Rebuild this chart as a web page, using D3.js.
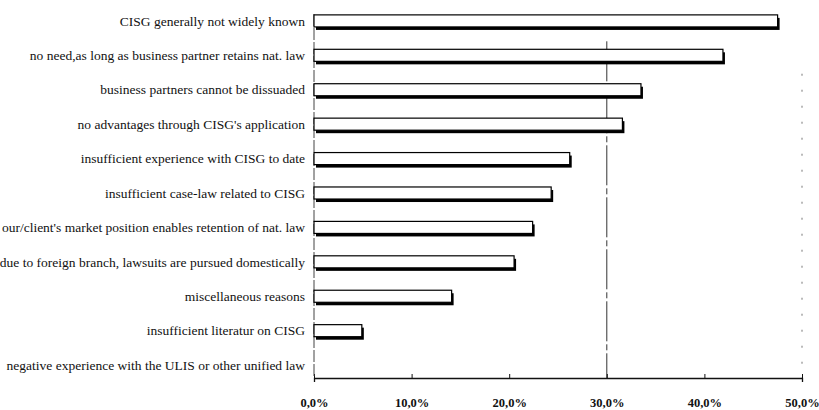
<!DOCTYPE html>
<html lang="en">
<head>
<meta charset="utf-8">
<title>Reasons against CISG</title>
<style>
  body { margin: 0; background: #fff; }
  .label { font-family: "Liberation Serif", "Times New Roman", serif; font-size: 13.5px; fill: #111; text-anchor: end; }
  .tick text { font-family: "Liberation Serif", "Times New Roman", serif; font-size: 12.5px; font-weight: bold; fill: #111; }
</style>
</head>
<body>
<div id="chart"></div>
<script src="https://cdn.jsdelivr.net/npm/d3@7"></script>
<script>
var reasons = [
  "CISG generally not widely known",
  "no need,as long as business partner retains nat. law",
  "business partners cannot be dissuaded",
  "no advantages through CISG's application",
  "insufficient experience with CISG to date",
  "insufficient case-law related to CISG",
  "our/client's market position enables retention of nat. law",
  "due to foreign branch, lawsuits are pursued domestically",
  "miscellaneous reasons",
  "insufficient literatur on CISG",
  "negative experience with the ULIS or other unified law"
];
var shares = [47.5, 41.9, 33.5, 31.6, 26.2, 24.3, 22.4, 20.5, 14.1, 4.9, 0];
var ticks = [0, 10, 20, 30, 40, 50];

var W = 819, H = 410,
    margin = {top: 8, right: 17, bottom: 32, left: 314};

var svg = d3.select("#chart").append("svg")
  .attr("width", W).attr("height", H);

var x = d3.scaleLinear().domain([0, 50]).range([margin.left, W - margin.right]);
var y = d3.scaleBand().domain(reasons).range([margin.top, H - margin.bottom]).paddingInner(0.65).paddingOuter(0.2);

// gridlines (faint, like the scan)
svg.append("line")
  .attr("x1", x(30)).attr("x2", x(30))
  .attr("y1", y(reasons[1]) - 8).attr("y2", H - margin.bottom)
  .style("stroke", "#333").style("stroke-width", 1).style("stroke-dasharray", "40,3,6,3");
svg.append("line")
  .attr("x1", x(50)).attr("x2", x(50))
  .attr("y1", y(reasons[2]) - 10).attr("y2", H - margin.bottom)
  .style("stroke", "#777").style("stroke-width", 1).style("stroke-dasharray", "2,14");

// value axis
var xAxis = d3.axisBottom(x).tickValues(ticks).tickSize(4)
  .tickFormat(function(d){ return d3.format(".1f")(d).replace(".", ",") + "%"; });
var ax = svg.append("g").attr("class", "axis")
  .attr("transform", "translate(0," + (H - margin.bottom) + ")").call(xAxis);
ax.select(".domain").style("stroke", "#111").style("stroke-width", 1.3);
ax.selectAll(".tick line").attr("y1", -4).attr("y2", 0).style("stroke", "#111");
ax.selectAll(".tick text").attr("dy", "1.75em");

// category axis line
svg.append("line")
  .attr("x1", x(0)).attr("x2", x(0))
  .attr("y1", margin.top + 6).attr("y2", H - margin.bottom)
  .style("stroke", "#444").style("stroke-width", 1).style("stroke-dasharray", "12,2");

// bar shadows
svg.selectAll("rect.shadow").data(shares).enter().append("rect")
  .attr("class", "shadow")
  .filter(function(d){ return d > 0; })
  .attr("x", x(0) + 2)
  .attr("y", function(d, i){ return y(reasons[i]) + 3; })
  .attr("width", function(d){ return x(d) - x(0); })
  .attr("height", y.bandwidth())
  .style("fill", "#000");

// bars
svg.selectAll("rect.bar").data(shares).enter().append("rect")
  .attr("class", "bar")
  .filter(function(d){ return d > 0; })
  .attr("x", x(0))
  .attr("y", function(d, i){ return y(reasons[i]); })
  .attr("width", function(d){ return x(d) - x(0); })
  .attr("height", y.bandwidth())
  .style("fill", "#fff")
  .style("stroke", "#000")
  .style("stroke-width", 1.2);

// labels
svg.selectAll("text.label").data(reasons).enter().append("text")
  .attr("class", "label")
  .attr("x", margin.left - 9)
  .attr("y", function(d){ return y(d) + y.bandwidth() / 2; })
  .attr("dy", "0.35em")
  .text(function(d){ return d; });
</script>
</body>
</html>
